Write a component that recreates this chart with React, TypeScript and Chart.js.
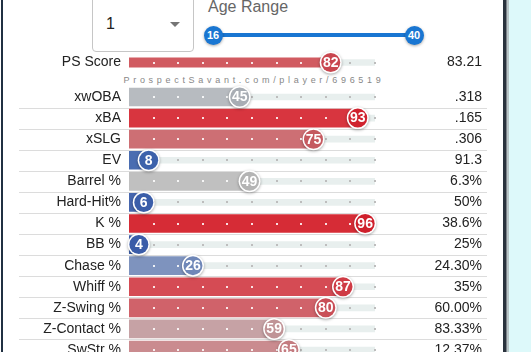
import React, { useEffect, useRef } from 'react';
import { Chart, registerables } from 'chart.js';
Chart.register(...registerables);

const FONT = '"Liberation Sans", Arial, Helvetica, sans-serif';

// ---- data ----
const topLabels = ['PS Score'];
const topValues = [82];
const topStats = ['83.21'];
const topBarColors = ['#d15b61'];
const topCircleColors = ['#c9464f'];

const rowLabels = ['xwOBA', 'xBA', 'xSLG', 'EV', 'Barrel %', 'Hard-Hit%', 'K %', 'BB %', 'Chase %', 'Whiff %', 'Z-Swing %', 'Z-Contact %', 'SwStr %'];
const rowValues = [45, 93, 75, 8, 49, 6, 96, 4, 26, 87, 80, 59, 65];
const rowStats = ['.318', '.165', '.306', '91.3', '6.3%', '50%', '38.6%', '25%', '24.30%', '35%', '60.00%', '83.33%', '12.37%'];
const rowBarColors = ['#b7bbc0', '#d8353f', '#cd6f74', '#4a6db1', '#c0c0c0', '#4666ae', '#d62c36', '#3e61ac', '#7e93be', '#d54b54', '#d0626a', '#c6a2a5', '#ca8b8f'];
const rowCircleColors = ['#a8adb4', '#d0222e', '#c55a60', '#3d62ab', '#b4b4b4', '#3b5ea9', '#cf1f2b', '#3a5ca8', '#6f87b8', '#cf3b45', '#c94f57', '#c09396', '#c47b80'];

const scaleMax = 100;
const dotValues = [10, 20, 30, 40, 50, 60, 70, 80, 90, 100];
const trackColor = '#e8efee';

function rowPlugin(values: number[], circleColors: string[], separators: boolean) {
  return {
    id: 'rowDecor',
    beforeDatasetsDraw(chart: any) {
      if (!separators) return;
      const y = chart.scales.y;
      const ctx = chart.ctx;
      ctx.save();
      ctx.strokeStyle = '#dcdcdc';
      ctx.lineWidth = 1;
      for (let i = 0; i < values.length - 1; i++) {
        const yy = Math.round((y.getPixelForValue(i) + y.getPixelForValue(i + 1)) / 2) + 0.5;
        ctx.beginPath();
        ctx.moveTo(19, yy);
        ctx.lineTo(487, yy);
        ctx.stroke();
      }
      ctx.restore();
    },
    afterDatasetsDraw(chart: any) {
      const x = chart.scales.x;
      const y = chart.scales.y;
      const ctx = chart.ctx;
      values.forEach((v, i) => {
        const cy = y.getPixelForValue(i);
        dotValues.forEach((d) => {
          const dx = x.getPixelForValue(d);
          ctx.fillStyle = d < v ? 'rgba(255,255,255,0.85)' : '#bdbdbd';
          ctx.fillRect(Math.round(dx) - 1, Math.round(cy) - 1, 2, 2);
        });
        const cx = x.getPixelForValue(v);
        ctx.save();
        ctx.shadowColor = 'rgba(0,0,0,0.35)';
        ctx.shadowBlur = 3;
        ctx.shadowOffsetY = 1;
        ctx.beginPath();
        ctx.arc(cx, cy, 11, 0, Math.PI * 2);
        ctx.fillStyle = '#ffffff';
        ctx.fill();
        ctx.restore();
        ctx.beginPath();
        ctx.arc(cx, cy, 9.5, 0, Math.PI * 2);
        ctx.fillStyle = circleColors[i];
        ctx.fill();
        ctx.fillStyle = '#ffffff';
        ctx.font = 'bold 14px ' + FONT;
        ctx.textAlign = 'center';
        ctx.textBaseline = 'middle';
        ctx.fillText(String(v), cx, cy + 0.5);
      });
    },
  };
}

function makeConfig(labels: string[], values: number[], stats: string[], barColors: string[], circleColors: string[], thickness: number, padTop: number, padBottom: number, separators: boolean): any {
  return {
    type: 'bar',
    data: {
      labels,
      datasets: [
        { data: values, backgroundColor: barColors, barThickness: thickness, grouped: false, order: 1 },
        { data: labels.map(() => scaleMax), backgroundColor: trackColor, barThickness: 6, grouped: false, order: 2 },
      ],
    },
    options: {
      indexAxis: 'y',
      responsive: false,
      animation: false,
      events: [],
      layout: { padding: { left: 0, right: 18, top: padTop, bottom: padBottom } },
      plugins: { legend: { display: false }, tooltip: { enabled: false } },
      scales: {
        x: { display: false, min: 0, max: scaleMax },
        y: {
          type: 'category',
          offset: true,
          grid: { display: false, drawTicks: false },
          border: { display: false },
          ticks: { padding: 8, color: '#222', font: { family: FONT, size: 14 }, autoSkip: false },
          afterFit: (s: any) => { s.width = 129; },
        },
        y2: {
          type: 'category',
          position: 'right',
          labels: stats,
          offset: true,
          grid: { display: false, drawTicks: false },
          border: { display: false },
          ticks: { crossAlign: 'far', padding: 0, color: '#222', font: { family: FONT, size: 14 }, autoSkip: false },
          afterFit: (s: any) => { s.width = 107; },
        },
      },
    },
    plugins: [rowPlugin(values, circleColors, separators)],
  };
}

export default function App() {
  const c1 = useRef<HTMLCanvasElement>(null);
  const c2 = useRef<HTMLCanvasElement>(null);
  useEffect(() => {
    const ch1 = new Chart(c1.current as HTMLCanvasElement, makeConfig(topLabels, topValues, topStats, topBarColors, topCircleColors, 19, 17.5, 17.5, false));
    const ch2 = new Chart(c2.current as HTMLCanvasElement, makeConfig(rowLabels, rowValues, rowStats, rowBarColors, rowCircleColors, 18, 17.5, 17.5, true));
    return () => { ch1.destroy(); ch2.destroy(); };
  }, []);

  const thumb = (cx: number, text: string) => (
    <div style={{ position: 'absolute', left: cx - 9.5, top: 25.5, width: 19, height: 19, borderRadius: '50%', background: '#1976d2', color: '#fff', fontWeight: 'bold', fontSize: 11, fontFamily: FONT, display: 'flex', alignItems: 'center', justifyContent: 'center', boxShadow: '0 1px 3px rgba(0,0,0,0.35)' }}>{text}</div>
  );

  return (
    <div style={{ position: 'fixed', left: 0, top: 0, width: 531, height: 352, overflow: 'hidden', background: '#fff', fontFamily: FONT }}>
      {/* frame edges */}
      <div style={{ position: 'absolute', left: 1, top: 0, width: 2, height: 352, background: '#203042' }} />
      <div style={{ position: 'absolute', left: 503, top: 0, width: 3, height: 352, background: '#2a333d' }} />
      <div style={{ position: 'absolute', left: 506, top: 0, width: 1, height: 352, background: '#7d8389' }} />
      <div style={{ position: 'absolute', left: 507, top: 0, width: 2, height: 352, background: '#b9c6c8' }} />
      <div style={{ position: 'absolute', left: 509, top: 0, width: 22, height: 352, background: '#ddf9fa' }} />

      {/* dropdown */}
      <div style={{ position: 'absolute', left: 92, top: -12, width: 100, height: 62, border: '1px solid #c6c6c6', borderRadius: 4 }} />
      <div style={{ position: 'absolute', left: 106, top: 16, fontSize: 16, lineHeight: '16px', color: '#222' }}>1</div>
      <div style={{ position: 'absolute', left: 170, top: 22, width: 0, height: 0, borderLeft: '5px solid transparent', borderRight: '5px solid transparent', borderTop: '5px solid #757575' }} />

      {/* age range */}
      <div style={{ position: 'absolute', left: 208, top: -1, fontSize: 16, lineHeight: '16px', color: '#666' }}>Age Range</div>
      <div style={{ position: 'absolute', left: 213, top: 33, width: 201, height: 4, background: '#1976d2' }} />
      {thumb(213, '16')}
      {thumb(414, '40')}

      {/* watermark */}
      <div style={{ position: 'absolute', left: 104, top: 74, width: 300, textAlign: 'center', fontSize: 9, lineHeight: '12px', letterSpacing: '3.7px', color: '#888' }}>ProspectSavant.com/player/696519</div>

      <canvas ref={c1} width={500} height={45} style={{ position: 'absolute', left: 0, top: 40 }} />
      <canvas ref={c2} width={500} height={309} style={{ position: 'absolute', left: 0, top: 69 }} />
    </div>
  );
}
